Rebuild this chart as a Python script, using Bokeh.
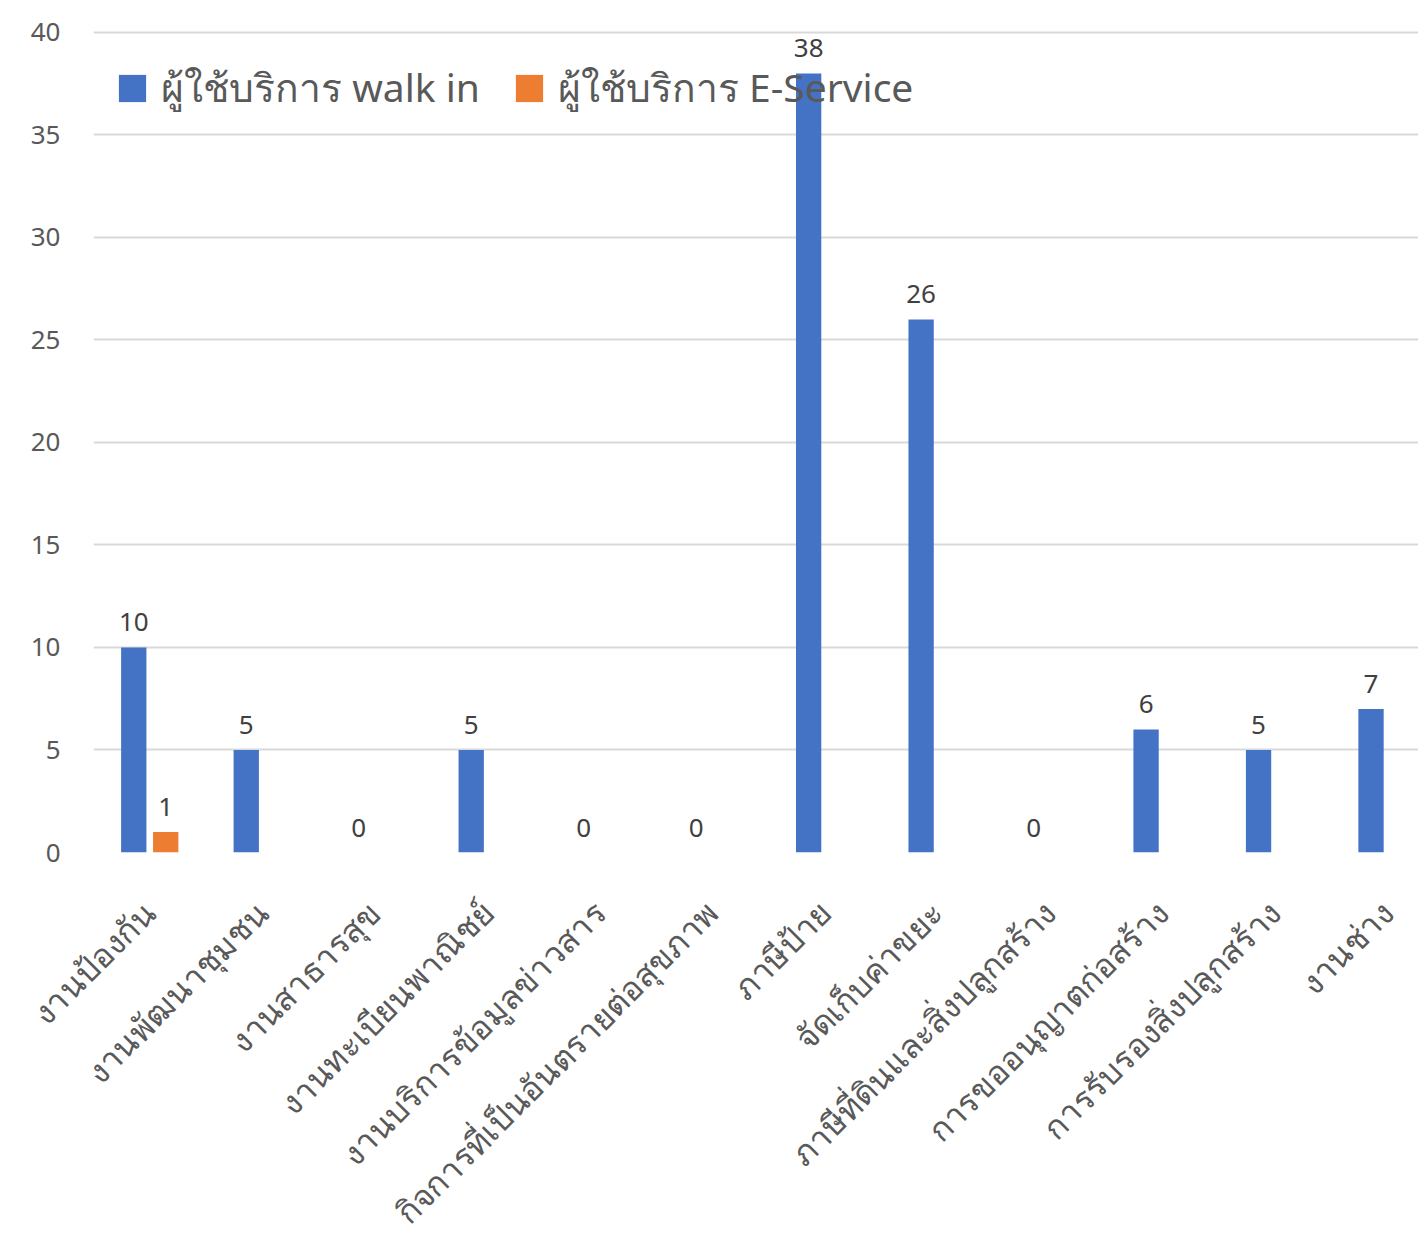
from bokeh.plotting import figure
from bokeh.models import ColumnDataSource, Legend, LegendItem, FixedTicker, Range1d, LabelSet
from bokeh.core.properties import value
from bokeh.embed import file_html
from bokeh.resources import INLINE
import math

categories = ["งานป้องกัน", "งานพัฒนาชุมชน", "งานสาธารสุข", "งานทะเบียนพาณิชย์",
              "งานบริการข้อมูลข่าวสาร", "กิจการที่เป็นอันตรายต่อสุขภาพ", "ภาษีป้าย",
              "จัดเก็บค่าขยะ", "ภาษีที่ดินและสิ่งปลูกสร้าง", "การขออนุญาตก่อสร้าง",
              "การรับรองสิ่งปลูกสร้าง", "งานช่าง"]
walk_in = [10, 5, 0, 5, 0, 0, 38, 26, 0, 6, 5, 7]
e_service = [1, None, None, None, None, None, None, None, None, None, None, None]
series_names = ["ผู้ใช้บริการ walk in", "ผู้ใช้บริการ E-Service"]
y_ticks = [0, 5, 10, 15, 20, 25, 30, 35, 40]

BLUE = "#4472C4"
ORANGE = "#ED7D31"
GRAY = "#595959"
FONT = "Noto Sans"

centers = [i + 0.5 for i in range(len(categories))]
off = 0.142
bw = 0.225

src_w = ColumnDataSource(dict(x=[c - off for c in centers], top=walk_in,
                              lbl=[str(v) for v in walk_in]))
ex = [c + off for c, v in zip(centers, e_service) if v is not None]
ev = [v for v in e_service if v is not None]
src_e = ColumnDataSource(dict(x=ex, top=ev, lbl=[str(v) for v in ev]))

p = figure(frame_width=1325, frame_height=852, output_backend="svg", toolbar_location=None,
           x_range=Range1d(0, 11.78), y_range=Range1d(0, 41.56),
           min_border_left=93, min_border_right=0, min_border_top=0,
           min_border_bottom=300)
p.outline_line_color = None
p.background_fill_color = "white"

r1 = p.vbar(x="x", top="top", width=bw, source=src_w, fill_color=BLUE, line_color=None)
r2 = p.vbar(x="x", top="top", width=bw, source=src_e, fill_color=ORANGE, line_color=None)

for s in (src_w, src_e):
    lab = LabelSet(x="x", y="top", text="lbl", source=s, text_align="center",
                   text_baseline="bottom", y_offset=16, text_font_size="26px",
                   text_color="#404040", text_font=value(FONT))
    p.add_layout(lab)

p.yaxis.ticker = FixedTicker(ticks=y_ticks)
p.yaxis.axis_line_color = None
p.yaxis.major_tick_line_color = None
p.yaxis.minor_tick_line_color = None
p.yaxis.major_label_text_font_size = "26px"
p.yaxis.major_label_text_color = GRAY
p.yaxis.major_label_text_font = FONT
p.yaxis.major_label_standoff = 27

p.xaxis.ticker = FixedTicker(ticks=centers)
p.xaxis.major_label_overrides = {c: n for c, n in zip(centers, categories)}
p.xaxis.major_label_orientation = math.pi / 4
p.xaxis.axis_line_color = None
p.xaxis.major_tick_line_color = None
p.xaxis.minor_tick_line_color = None
p.xaxis.major_label_text_font_size = "33px"
p.xaxis.major_label_text_color = GRAY
p.xaxis.major_label_text_font = FONT
p.xaxis.major_label_standoff = 48

p.xgrid.grid_line_color = None
p.ygrid.ticker = FixedTicker(ticks=y_ticks)
p.ygrid.grid_line_color = "#D9D9D9"
p.ygrid.grid_line_width = 2

legend = Legend(items=[LegendItem(label=series_names[0], renderers=[r1]),
                       LegendItem(label=series_names[1], renderers=[r2])],
                orientation="horizontal", location=(22, 733),
                label_text_font_size="39px", label_text_color=GRAY,
                label_text_font=FONT, glyph_width=34, glyph_height=34,
                padding=0, margin=0, spacing=32, label_standoff=12,
                background_fill_alpha=0, border_line_color=None)
p.add_layout(legend)

open("out.html", "w").write(file_html(p, INLINE))
